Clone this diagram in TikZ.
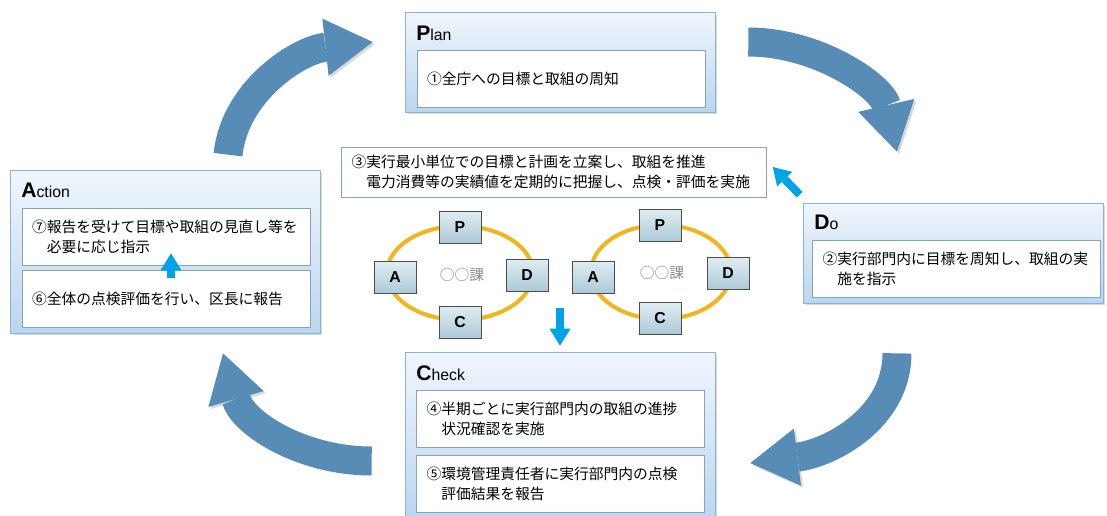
\documentclass[tikz,border=0pt]{standalone}
\usepackage{fontspec}
\setmainfont{Noto Sans CJK JP}
\newfontfamily\latinfont{Liberation Sans}
\usetikzlibrary{arrows.meta,shadows,positioning}
\definecolor{bigblue}{RGB}{86,140,181}
\definecolor{cyanblue}{RGB}{0,162,232}
\definecolor{boxtop}{RGB}{240,246,252}
\definecolor{boxbot}{RGB}{186,214,240}
\definecolor{boxline}{RGB}{140,178,214}
\definecolor{innerline}{RGB}{135,163,190}
\definecolor{cyclegold}{RGB}{242,181,30}
\definecolor{pdtop}{RGB}{224,237,242}
\definecolor{pdbot}{RGB}{172,202,215}
\tikzset{
  outerbox/.style={draw=boxline, top color=boxtop, bottom color=boxbot,
    drop shadow={shadow xshift=0.05cm, shadow yshift=-0.05cm, opacity=0.3}},
  innerbox/.style={draw=innerline, fill=white, minimum width=5.76cm, minimum height=1.14cm,
    text width=5.36cm, align=left, inner xsep=0.2cm, font=\fontsize{8.4}{11.4}\selectfont},
  headtext/.style={anchor=west, inner sep=0pt, font=\latinfont\fontsize{9}{10}\selectfont},
  pdbox/.style={draw=black!70, top color=pdtop, bottom color=pdbot, minimum width=0.84cm,
    minimum height=0.64cm, inner sep=0pt, font=\latinfont\bfseries\fontsize{9}{10}\selectfont},
  cycle/.style={draw=cyclegold, line width=0.08cm},
  katext/.style={text=black!45, font=\fontsize{8.4}{10}\selectfont},
  bigarrow/.style={draw=bigblue, line width=0.58cm,
    -{Triangle[width=1.15cm,length=0.95cm,line width=0pt]},
    preaction={draw=black!50, opacity=0.3, transform canvas={xshift=1.2pt,yshift=-1.2pt}}},
  cyanarrow/.style={draw=cyanblue, line width=0.16cm,
    -{Triangle[width=0.42cm,length=0.34cm,line width=0pt]}}
}
\newcommand{\headcap}[1]{{\bfseries\fontsize{12}{12}\selectfont #1}}
\begin{document}
\begin{tikzpicture}[x=0.02cm, y=-0.02cm]
\useasboundingbox (0,0) rectangle (1107,515);
\clip (0,0) rectangle (1107,515);

\node[outerbox, minimum width=6.2cm, minimum height=2cm] (plan) at (560,62) {};
\node[outerbox, minimum width=6.2cm, minimum height=3.26cm] (action) at (165,251.5) {};
\node[outerbox, minimum width=6cm, minimum height=2cm] (do) at (953,253) {};
\node[outerbox, minimum width=6.2cm, minimum height=3.36cm] (check) at (560,436) {};

\node[headtext] (plantitle) at (416,33) {\headcap{P}lan};
\node[headtext] (actiontitle) at (21,190) {\headcap{A}ction};
\node[headtext] (dotitle) at (814,222) {\headcap{D}o};
\node[headtext] (checktitle) at (416,373) {\headcap{C}heck};

\node[innerbox] (plan1) at (561,78.5) {①全庁への目標と取組の周知};
\node[innerbox] (act7) at (166,236.5) {⑦報告を受けて目標や取組の見直し等を\\\hspace{1em}必要に応じ指示};
\node[innerbox] (act6) at (166,298.5) {⑥全体の点検評価を行い、区長に報告};
\node[innerbox, minimum width=5.66cm, text width=5.36cm] (do2) at (956.5,268.5) {②実行部門内に目標を周知し、取組の実\\\hspace{1em}施を指示};
\node[innerbox] (chk4) at (560.5,419) {④半期ごとに実行部門内の取組の進捗\\\hspace{1em}状況確認を実施};
\node[innerbox] (chk5) at (560.5,484) {⑤環境管理責任者に実行部門内の点検\\\hspace{1em}評価結果を報告};
\node[innerbox, minimum width=8.48cm, minimum height=1cm, text width=8.1cm] (unit3) at (554,172)
  {③実行最小単位での目標と計画を立案し、取組を推進\\\hspace{1em}電力消費等の実績値を定期的に把握し、点検・評価を実施};

\draw[cycle] (460,273) ellipse [x radius=73, y radius=47];
\draw[cycle] (661,272) ellipse [x radius=70, y radius=47];
\node[pdbox] (p1) at (460,227) {P};
\node[pdbox] (d1) at (527,275) {D};
\node[pdbox] (c1) at (460,322) {C};
\node[pdbox] (a1) at (395,277) {A};
\node[katext] (ka1) at (462,275) {○○課};
\node[pdbox] (p2) at (660,225) {P};
\node[pdbox] (d2) at (728,273) {D};
\node[pdbox] (c2) at (660,318) {C};
\node[pdbox] (a2) at (593,277) {A};
\node[katext] (ka2) at (662,273) {○○課};

\draw[bigarrow] ([shift={(63,-15)}]action.north) .. controls +(7,-65) and +(-73,8) .. ([shift={(-32,-20)}]plan.west);
\draw[bigarrow] ([shift={(33,-20)}]plan.east) .. controls +(70,0) and +(-15,-65) .. ([shift={(-56,-51)}]do.north);
\draw[bigarrow] ([shift={(-56,50)}]do.south) .. controls +(0,65) and +(80,-10) .. ([shift={(35,27)}]check.east);
\draw[bigarrow] ([shift={(-33,25)}]check.west) .. controls +(-70,0) and +(20,70) .. ([shift={(58,20)}]action.south);

\draw[cyanarrow] ([shift={(-3,-8)}]do.north west) -- ([shift={(6,-5)}]unit3.east);
\draw[cyanarrow] ([shift={(0,-44)}]check.north) -- ([shift={(0,-6)}]check.north);
\draw[cyanarrow] ([shift={(5,8)}]act6.north) -- ([shift={(5,-12)}]act7.south);
\end{tikzpicture}
\end{document}
